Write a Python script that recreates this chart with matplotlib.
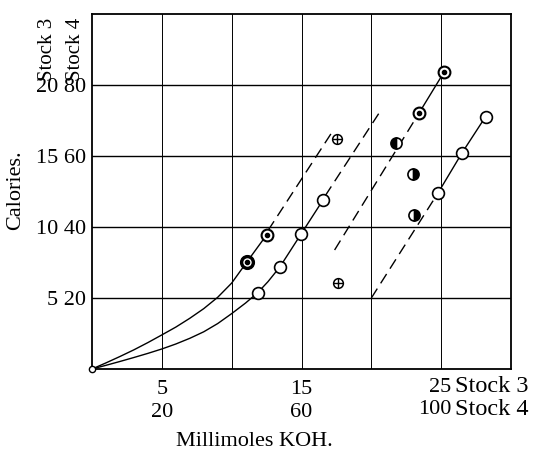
import matplotlib
matplotlib.use("Agg")
import matplotlib.pyplot as plt

plt.rcParams['font.family'] = ['Liberation Serif', 'DejaVu Serif']

# ---- data (millimoles KOH, Stock 3 scale ; calories, Stock 3 scale) ----
# upper curve (dotted circles)
upper_curve_x = [0, 1, 2, 3, 4, 5, 6, 7, 8, 9, 10, 11.07, 12.5]
upper_curve_y = [0, 0.43, 0.88, 1.35, 1.86, 2.4, 2.95, 3.57, 4.25, 5.05, 6.05, 7.51, 9.44]
upper_pts_x = [11.07, 12.5]
upper_pts_y = [7.51, 9.44]
upper_dash_x = [12.6, 17.2]
upper_dash_y = [9.75, 16.7]

# lower curve (open circles)
lower_curve_x = [0, 1, 2, 3, 4, 5, 6, 7, 8, 9, 10, 11, 11.86, 12.6, 13.46, 14.96, 16.54]
lower_curve_y = [0, 0.26, 0.53, 0.81, 1.1, 1.41, 1.76, 2.16, 2.62, 3.2, 3.9, 4.65, 5.37,
                 6.15, 7.2, 9.49, 11.9]
lower_pts_x = [11.86, 13.46, 14.96, 16.54]
lower_pts_y = [5.37, 7.2, 9.49, 11.9]
lower_dash_x = [16.7, 20.73]
lower_dash_y = [12.2, 18.29]

# right dotted-circle line
right_dot_x = [23.4, 25.2]
right_dot_y = [18.0, 20.9]
right_dot_dash_x = [17.37, 23.4]
right_dot_dash_y = [8.38, 18.0]

# right open-circle line
right_open_x = [24.79, 26.5, 28.18]
right_open_y = [12.42, 15.23, 17.77]
right_open_dash_x = [20.0, 24.79]
right_open_dash_y = [5.0, 12.42]

# crossed circles
cross_x = [17.52, 17.59]
cross_y = [16.18, 6.08]

# half-filled circles
half_left_x = [21.78]
half_left_y = [15.9]
half_right_x = [23.0, 23.05]
half_right_y = [13.73, 10.85]

x_ticks = [5, 10, 15, 20, 25]
x_tick_labels = ["5\n20", "", "15\n60", "", ""]
last_tick_label = "25\n100"
stock_label = "Stock 3\nStock 4"
y_ticks = [5, 10, 15, 20]
y_tick_labels = ["5 20", "10 40", "15 60", "20 80"]

FS = 16
W, H = 538, 451
fig = plt.figure(figsize=(W / 100, H / 100), dpi=100)
ax = fig.add_axes([92 / W, 1 - 369 / H, (511 - 92) / W, (369 - 14) / H])
ax.set_xlim(0, 30)
ax.set_ylim(0, 25)

for s in ax.spines.values():
    s.set_linewidth(1.3)
    s.set_color('black')

ax.set_xticks(x_ticks)
ax.set_xticklabels(x_tick_labels, fontsize=FS)
ax.set_yticks(y_ticks)
ax.set_yticklabels(y_tick_labels, fontsize=FS)
ax.tick_params(axis='x', length=0, pad=8)
ax.tick_params(axis='y', length=0, pad=4)
for lbl in ax.get_xticklabels():
    lbl.set_linespacing(1.25)
ax.grid(True, axis='x', color='black', linewidth=0.7)
ax.grid(True, axis='y', color='black', linewidth=1.0)
ax.set_axisbelow(True)

lc = 'black'
lw = 1.0
dash = (0, (8, 4.5))

ax.plot(upper_curve_x, upper_curve_y, color=lc, lw=lw, zorder=2)
ax.plot(upper_dash_x, upper_dash_y, color=lc, lw=lw, linestyle=dash, zorder=2)
ax.plot(lower_curve_x, lower_curve_y, color=lc, lw=lw, zorder=2)
ax.plot(lower_dash_x, lower_dash_y, color=lc, lw=lw, linestyle=dash, zorder=2)
ax.plot(right_dot_x, right_dot_y, color=lc, lw=lw, zorder=2)
ax.plot(right_dot_dash_x, right_dot_dash_y, color=lc, lw=lw, linestyle=dash, zorder=2)
ax.plot(right_open_x, right_open_y, color=lc, lw=lw, zorder=2)
ax.plot(right_open_dash_x, right_open_dash_y, color=lc, lw=lw, linestyle=dash, zorder=2)

# origin marker
ax.plot([0], [0], 'o', ms=4.5, mfc='white', mec='black', mew=1.0, zorder=4, clip_on=False)

# open circles
ax.plot(lower_pts_x + right_open_x, lower_pts_y + right_open_y, 'o', ms=8.5,
        mfc='white', mec='black', mew=1.2, zorder=4, linestyle='none')

# dotted circles
dot_x = upper_pts_x + right_dot_x
dot_y = upper_pts_y + right_dot_y
ax.plot(dot_x, dot_y, 'o', ms=8.5, mfc='white', mec='black', mew=1.5, zorder=4, linestyle='none')
ax.plot(dot_x, dot_y, 'o', ms=3.0, mfc='black', mec='black', zorder=5, linestyle='none')
ax.plot(upper_pts_x[:1], upper_pts_y[:1], 'o', ms=8.5, mfc='none', mec='black', mew=2.4,
        zorder=5, linestyle='none')

# crossed circles
ax.plot(cross_x, cross_y, 'o', ms=7, mfc='white', mec='black', mew=1.1, zorder=4, linestyle='none')
ax.plot(cross_x, cross_y, '+', ms=7, mec='black', mew=1.0, zorder=5, linestyle='none')

# half-filled circles
ax.plot(half_left_x, half_left_y, 'o', ms=8, fillstyle='left', mfc='black',
        markerfacecoloralt='white', mec='black', mew=1.2, zorder=4, linestyle='none')
ax.plot(half_right_x, half_right_y, 'o', ms=8, fillstyle='right', mfc='black',
        markerfacecoloralt='white', mec='black', mew=1.2, zorder=4, linestyle='none')

# texts
row_top = 1 - 378 / H
fig.text(451 / W, row_top, last_tick_label, fontsize=FS, ha='right', va='top',
         multialignment='right', linespacing=1.25)
fig.text(455 / W, 1 - 376 / H, stock_label, fontsize=17.5, ha='left', va='top',
         linespacing=1.15)
fig.text(254 / W, 1 - 441 / H, "Millimoles KOH.", fontsize=FS, ha='center', va='center')
fig.text(16 / W, 1 - 190 / H, "Calories.", fontsize=FS, rotation=90, ha='center', va='center')
fig.text(47 / W, 1 - 81 / H, "Stock 3", fontsize=15, rotation=90, ha='center', va='bottom')
fig.text(75 / W, 1 - 81 / H, "Stock 4", fontsize=15, rotation=90, ha='center', va='bottom')

fig.savefig("out.png", dpi=100)
